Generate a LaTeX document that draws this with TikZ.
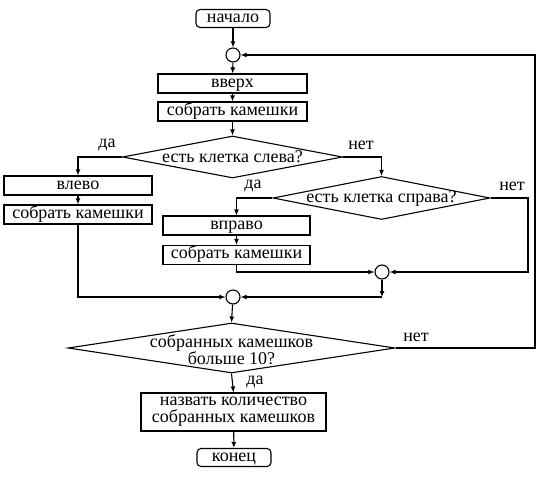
\documentclass[tikz,border=0pt]{standalone}
\usepackage{fontspec}
\setmainfont{Liberation Serif}
\usetikzlibrary{shapes.geometric,arrows.meta}
\begin{document}
\begin{tikzpicture}[x=1pt,y=-1pt,
  every node/.style={font=\fontsize{18}{17}\selectfont},
  ln/.style={line width=1.1pt},
  proc/.style={draw,ln,inner sep=0pt,minimum height=19pt,text height=10pt,text depth=3pt},
  term/.style={draw,ln,rounded corners=4pt,inner sep=0pt,minimum width=74pt,minimum height=18pt,text height=10pt,text depth=3pt},
  jn/.style={circle,draw,ln,minimum size=14pt,inner sep=0pt},
  dia/.style={diamond,draw,ln,inner sep=0pt,aspect=5},
  arr/.style={ln,-{Latex[length=6pt,width=5pt]}},
  lbl/.style={inner sep=0pt}]
\useasboundingbox (0,0) rectangle (550,480);
\node[term] (start) at (233,18.5) {начало};
\node[jn] (c1) at (233,55) {};
\node[proc,minimum width=149pt] (up) at (232.5,83.5) {вверх};
\node[proc,minimum width=149pt] (col1) at (232.5,111.5) {собрать камешки};
\node[dia,minimum width=220pt,minimum height=42pt] (d1) at (232.5,157) {};
\node at (d1) {есть клетка слева?};
\node[proc,minimum width=148pt] (lft) at (78,185.5) {влево};
\node[proc,minimum width=148pt] (col2) at (78,214.5) {собрать камешки};
\node[dia,minimum width=217pt,minimum height=43pt] (d2) at (381.5,198) {};
\node at (d2) {есть клетка справа?};
\node[proc,minimum width=147pt] (rgt) at (236.5,225.5) {вправо};
\node[proc,minimum width=147pt] (col3) at (236.5,255) {собрать камешки};
\node[jn] (c2) at (382,272) {};
\node[jn] (c3) at (233,297) {};
\node[dia,minimum width=327pt,minimum height=50pt] (d3) at (231.5,348) {};
\node[align=center] at (231.5,350) {собранных камешков\\больше 10?};
\node[draw,ln,inner sep=0pt,minimum width=185pt,minimum height=38pt,align=center] (name) at (233.5,412) {назвать количество\\собранных камешков};
\node[term] (fin) at (234,457.5) {конец};
\coordinate (r2) at (528,198);
\coordinate (m) at (382,297);
\coordinate (r3) at (535,348);
\draw[arr] (start) -- (c1);
\draw[arr] (c1) -- (up);
\draw[arr] (up) -- (col1);
\draw[arr] (col1) -- (d1.north);
\draw[arr] (d1.west) -| (lft.north);
\draw[arr] (lft) -- (col2);
\draw[arr] (col2.south) |- (c3.west);
\draw[arr] (d1.east) -| (d2.north);
\draw[arr] (d2.west) -| (rgt.north);
\draw[arr] (rgt) -- (col3);
\draw[arr] (col3.south) |- (c2.west);
\draw[arr] (d2.east) -- (r2) |- (c2.east);
\draw[arr] (c2) -- (m);
\draw[arr] (m) -- (c3.east);
\draw[arr] (c3) -- (d3.north);
\draw[arr] (d3.east) -- (r3) |- (c1.east);
\draw[arr] (d3.south) -- (name.north);
\draw[arr] (name) -- (fin);
\node[lbl] (l1) at (107,145) {да};
\node[lbl] (l2) at (361,145) {нет};
\node[lbl] (l3) at (253,186) {да};
\node[lbl] (l4) at (512,186) {нет};
\node[lbl] (l5) at (416,337) {нет};
\node[lbl] (l6) at (255,382) {да};
\end{tikzpicture}
\end{document}
